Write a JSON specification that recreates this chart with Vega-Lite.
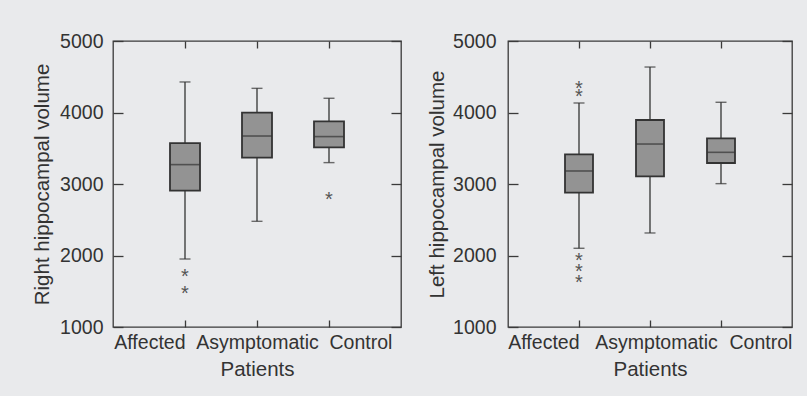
{
  "$schema": "https://vega.github.io/schema/vega-lite/v6.json",
  "background": "#e9eaec",
  "padding": {"left": 31, "top": 30, "right": 21, "bottom": 17},
  "spacing": 23,
  "config": {
    "font": "Liberation Sans",
    "view": {"stroke": "#3a3a3a", "strokeWidth": 1.3},
    "axis": {"labelFont": "Liberation Sans", "titleFont": "Liberation Sans", "labelFontSize": 19.5, "titleFontSize": 20.5, "labelColor": "#333", "titleColor": "#333", "titleFontWeight": "normal", "tickColor": "#3a3a3a", "tickWidth": 1.3, "domain": false, "grid": false}
  },
  "hconcat": [
    {
      "width": 288,
      "height": 286,
      "data": {"values": [
        {"group": "Affected", "lo": 1951, "q1": 2907, "median": 3271, "q3": 3573, "hi": 4427},
        {"group": "Asymptomatic", "lo": 2478, "q1": 3369, "median": 3671, "q3": 3998, "hi": 4338},
        {"group": "Control", "lo": 3299, "q1": 3513, "median": 3663, "q3": 3877, "hi": 4199}
      ]},
      "layer": [
        {
          "mark": {"type": "rule", "color": "#333", "strokeWidth": 1.3},
          "encoding": {
            "x": {"field": "group", "type": "nominal", "sort": ["Affected", "Asymptomatic", "Control"], "scale": {"type": "point", "padding": 1}, "axis": {"orient": "bottom", "title": "Patients", "labelAngle": 0, "tickSize": -7, "labelPadding": 13, "titlePadding": 8, "labelAlign": {"expr": "datum.value == 'Affected' ? 'right' : datum.value == 'Control' ? 'left' : 'center'"}}},
            "y": {"field": "lo", "type": "quantitative", "scale": {"domain": [1000, 5000], "nice": false, "zero": false}, "axis": {"orient": "left", "title": "Right hippocampal volume", "format": "d", "values": [1000, 2000, 3000, 4000, 5000], "tickSize": -10, "labelPadding": 20, "titlePadding": 7}},
            "y2": {"field": "hi"}
          }
        },
        {
          "mark": {"type": "bar", "size": 30, "fill": "#939393", "stroke": "#333", "strokeWidth": 1.8},
          "encoding": {
            "x": {"field": "group", "type": "nominal", "sort": ["Affected", "Asymptomatic", "Control"], "axis": {"orient": "top", "labels": false, "title": null, "tickSize": -7}},
            "y": {"field": "q1", "type": "quantitative", "axis": {"orient": "right", "labels": false, "title": null, "values": [1000, 2000, 3000, 4000, 5000], "tickSize": -10}},
            "y2": {"field": "q3"}
          }
        },
        {
          "mark": {"type": "tick", "size": 30, "thickness": 1.6, "color": "#333"},
          "encoding": {"x": {"field": "group", "type": "nominal", "sort": ["Affected", "Asymptomatic", "Control"], "axis": null}, "y": {"field": "median", "type": "quantitative", "axis": null}}
        },
        {
          "mark": {"type": "tick", "size": 11, "thickness": 1.4, "color": "#333"},
          "encoding": {"x": {"field": "group", "type": "nominal", "sort": ["Affected", "Asymptomatic", "Control"], "axis": null}, "y": {"field": "lo", "type": "quantitative", "axis": null}}
        },
        {
          "mark": {"type": "tick", "size": 11, "thickness": 1.4, "color": "#333"},
          "encoding": {"x": {"field": "group", "type": "nominal", "sort": ["Affected", "Asymptomatic", "Control"], "axis": null}, "y": {"field": "hi", "type": "quantitative", "axis": null}}
        },
        {
          "data": {"values": [
            {"group": "Affected", "value": 1769},
            {"group": "Affected", "value": 1527},
            {"group": "Control", "value": 2842}
          ]},
          "mark": {"type": "text", "text": "*", "fontSize": 20, "color": "#555", "baseline": "alphabetic", "dy": 11},
          "encoding": {"x": {"field": "group", "type": "nominal", "sort": ["Affected", "Asymptomatic", "Control"], "axis": null}, "y": {"field": "value", "type": "quantitative", "axis": null}}
        }
      ],
      "resolve": {"axis": {"x": "independent", "y": "independent"}}
    },
    {
      "width": 284,
      "height": 286,
      "data": {"values": [
        {"group": "Affected", "lo": 2101, "q1": 2879, "median": 3182, "q3": 3415, "hi": 4133},
        {"group": "Asymptomatic", "lo": 2315, "q1": 3108, "median": 3559, "q3": 3895, "hi": 4636},
        {"group": "Control", "lo": 3005, "q1": 3294, "median": 3443, "q3": 3639, "hi": 4143}
      ]},
      "layer": [
        {
          "mark": {"type": "rule", "color": "#333", "strokeWidth": 1.3},
          "encoding": {
            "x": {"field": "group", "type": "nominal", "sort": ["Affected", "Asymptomatic", "Control"], "scale": {"type": "point", "padding": 1}, "axis": {"orient": "bottom", "title": "Patients", "labelAngle": 0, "tickSize": -7, "labelPadding": 13, "titlePadding": 8, "labelAlign": {"expr": "datum.value == 'Affected' ? 'right' : datum.value == 'Control' ? 'left' : 'center'"}, "labelOffset": {"expr": "datum.value == 'Asymptomatic' ? 6 : datum.value == 'Control' ? 8 : 0"}}},
            "y": {"field": "lo", "type": "quantitative", "scale": {"domain": [1000, 5000], "nice": false, "zero": false}, "axis": {"orient": "left", "title": "Left hippocampal volume", "format": "d", "values": [1000, 2000, 3000, 4000, 5000], "tickSize": -10, "labelPadding": 22, "titlePadding": 5}},
            "y2": {"field": "hi"}
          }
        },
        {
          "mark": {"type": "bar", "size": 28, "fill": "#939393", "stroke": "#333", "strokeWidth": 1.8},
          "encoding": {
            "x": {"field": "group", "type": "nominal", "sort": ["Affected", "Asymptomatic", "Control"], "axis": {"orient": "top", "labels": false, "title": null, "tickSize": -7}},
            "y": {"field": "q1", "type": "quantitative", "axis": {"orient": "right", "labels": false, "title": null, "values": [1000, 2000, 3000, 4000, 5000], "tickSize": -10}},
            "y2": {"field": "q3"}
          }
        },
        {
          "mark": {"type": "tick", "size": 28, "thickness": 1.6, "color": "#333"},
          "encoding": {"x": {"field": "group", "type": "nominal", "sort": ["Affected", "Asymptomatic", "Control"], "axis": null}, "y": {"field": "median", "type": "quantitative", "axis": null}}
        },
        {
          "mark": {"type": "tick", "size": 11, "thickness": 1.4, "color": "#333"},
          "encoding": {"x": {"field": "group", "type": "nominal", "sort": ["Affected", "Asymptomatic", "Control"], "axis": null}, "y": {"field": "lo", "type": "quantitative", "axis": null}}
        },
        {
          "mark": {"type": "tick", "size": 11, "thickness": 1.4, "color": "#333"},
          "encoding": {"x": {"field": "group", "type": "nominal", "sort": ["Affected", "Asymptomatic", "Control"], "axis": null}, "y": {"field": "hi", "type": "quantitative", "axis": null}}
        },
        {
          "data": {"values": [
            {"group": "Affected", "value": 4399},
            {"group": "Affected", "value": 4282},
            {"group": "Affected", "value": 1989},
            {"group": "Affected", "value": 1835},
            {"group": "Affected", "value": 1681}
          ]},
          "mark": {"type": "text", "text": "*", "fontSize": 20, "color": "#555", "baseline": "alphabetic", "dy": 11},
          "encoding": {"x": {"field": "group", "type": "nominal", "sort": ["Affected", "Asymptomatic", "Control"], "axis": null}, "y": {"field": "value", "type": "quantitative", "axis": null}}
        }
      ],
      "resolve": {"axis": {"x": "independent", "y": "independent"}}
    }
  ]
}
